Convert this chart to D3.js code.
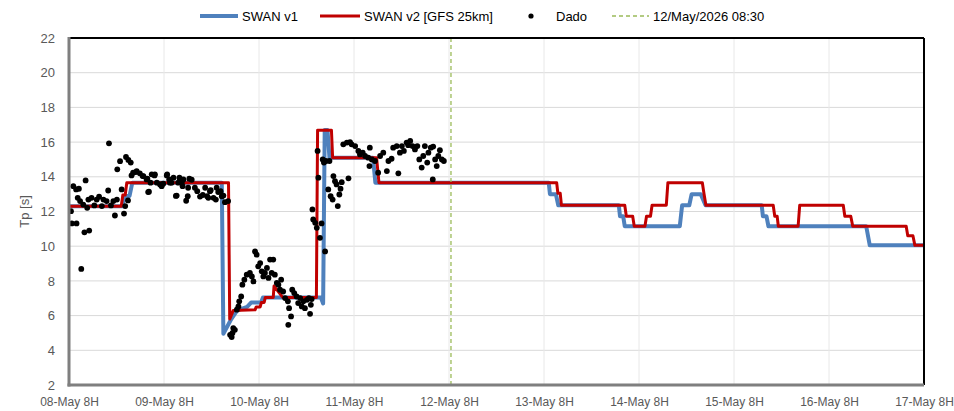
<!DOCTYPE html>
<html>
<head>
<meta charset="utf-8">
<script src="https://cdn.jsdelivr.net/npm/d3@7"></script>
<style>
  body { margin:0; background:#fff; }
  text { font-family: "Liberation Sans", Arial, sans-serif; }
</style>
</head>
<body>
<div id="chart"></div>
<script>
// hours since 08-May 08:00
var dayTicks  = [0, 24, 48, 72, 96, 120, 144, 168, 192, 216];
var dayLabels = ["08-May 8H","09-May 8H","10-May 8H","11-May 8H","12-May 8H",
                 "13-May 8H","14-May 8H","15-May 8H","16-May 8H","17-May 8H"];
var yTicks = [2,4,6,8,10,12,14,16,18,20,22];
var nowHour = 96.5; // 12/May/2026 08:30

// [hour, Tp]
var swanV1 = [[0,12.3],[13.5,12.3],[14,12.9],[15.3,12.9],[16,13.66],[38.6,13.66],[39,4.95],
  [41,5.8],[42.5,6.3],[45,6.5],[46,6.75],[48.5,6.75],[49,7.05],[63.6,7.05],[64.2,6.7],
  [64.6,16.7],[65.3,16.7],[65.8,15.1],[76.8,15.1],[77.4,13.66],[121.2,13.66],[121.5,13.0],
  [123.0,13.0],[123.6,12.36],[138.9,12.36],[139.2,11.73],[140,11.73],[140.4,11.15],
  [154.3,11.15],[154.9,12.36],[156.7,12.36],[157.3,13.0],[159.6,13.0],[160.8,12.36],
  [175,12.36],[175.3,11.73],[176.2,11.73],[176.7,11.15],[201.4,11.15],[202.3,10.05],[216,10.05]];

var swanV2 = [[0,12.3],[13.2,12.3],[13.6,12.95],[14.2,12.95],[14.6,13.66],[40.3,13.66],
  [40.6,5.8],[41.5,6.3],[47,6.33],[47.3,6.5],[48.3,6.5],[48.6,6.76],[49.3,6.76],[49.6,7.05],
  [51.6,7.05],[51.8,7.7],[54,7.05],[62.5,7.05],[62.8,16.68],[66.3,16.68],[66.6,15.1],
  [77.7,15.1],[78.3,13.66],[123.2,13.66],[123.5,13.05],[124.1,13.05],[124.4,12.36],
  [140.4,12.36],[140.8,11.73],[142.4,11.73],[142.8,11.15],[145.5,11.15],[145.9,11.73],
  [146.9,11.73],[147.3,12.36],[150.9,12.36],[151.3,13.66],[160,13.66],[160.4,13.05],
  [160.9,12.36],[177.9,12.36],[178.3,11.73],[178.9,11.73],[179.2,11.15],[184.2,11.15],
  [184.6,12.36],[195.6,12.36],[196,11.73],[197.5,11.73],[198,11.15],[211.5,11.15],
  [211.9,10.6],[213.2,10.6],[213.7,10.05],[216,10.05]];

var dado = [[0.5,12.02],[0.7,11.31],[1.1,13.46],[1.8,13.27],[1.9,11.31],[2.2,12.79],[2.5,13.31],
  [2.8,12.6],[3.1,8.69],[3.6,12.4],[3.9,10.8],[4.2,13.79],[4.6,12.21],[4.9,12.69],[5.1,10.9],
  [5.7,12.79],[6.4,12.35],[7,12.69],[7.6,12.85],[8.3,12.31],[8.7,12.69],[9.5,12.6],[9.9,13.21],
  [10.1,15.93],[10.6,12.35],[11.2,12.6],[11.6,11.77],[12.1,12.69],[12.2,14.43],[12.9,14.9],
  [13.3,13.27],[13.9,11.88],[14.2,12.31],[14.4,15.14],[14.9,12.64],[15,14.97],[15.6,14.82],
  [15.8,14.08],[16.2,14.24],[16.9,14.27],[17.1,14.33],[17.9,14.2],[18.6,14.04],[18.8,14.04],
  [19.6,13.85],[19.8,13.89],[20,13.12],[20.2,13.14],[20.6,13.66],[20.9,14.14],[21.6,14.08],
  [21.7,14.14],[22.2,13.66],[23,13.56],[23.4,13.46],[23.8,13.6],[24.7,14.08],[24.8,14.14],
  [25.3,13.85],[25.5,13.66],[25.9,13.66],[26.4,13.95],[27,12.9],[27.2,12.92],[27.6,13.66],
  [27.9,13.95],[28,13.89],[28.5,13.66],[28.7,13.46],[28.9,13.85],[29.6,12.62],[30,12.88],
  [30.1,13.37],[30.4,13.89],[31,13.83],[31.8,13.37],[32.4,13.17],[33.1,12.86],[33.8,12.95],
  [34.4,13.37],[34.9,12.88],[35.2,12.79],[35.6,13.17],[35.8,13.23],[36.5,12.79],[37.1,12.69],
  [37.3,13.37],[37.7,13.12],[38.3,13.17],[38.6,12.88],[39,12.92],[39.4,12.54],[40.2,12.6],
  [40.7,4.89],[41.1,4.76],[41.3,5.0],[41.5,5.28],[41.9,5.18],[42.4,6.34],[42.8,6.53],[43,6.82],
  [43.5,7.1],[43.8,7.78],[44.3,8.07],[44.9,8.36],[45.7,8.46],[46.2,8.26],[46.6,7.97],[47,9.7],
  [47.4,9.51],[47.8,8.84],[48.3,9.03],[48.7,8.55],[49.1,8.26],[49.5,8.46],[50,8.75],[50.4,8.17],
  [50.8,9.23],[51.2,8.46],[51.6,9.23],[52,8.36],[52.5,7.88],[52.9,7.78],[53.3,7.49],[53.6,8.07],
  [54.1,7.39],[54.6,7.01],[55.3,6.82],[55.4,5.47],[55.6,6.43],[56.1,5.95],[56.4,7.49],[56.9,7.3],
  [57.5,7.1],[57.9,6.72],[58.4,7.01],[58.8,6.53],[59.2,6.82],[59.6,6.43],[60.1,6.91],[60.6,7.01],
  [60.9,6.1],[61.1,6.62],[61.3,6.95],[61.5,12.12],[61.7,11.54],[62.2,11.35],[62.6,11.06],
  [62.8,15.49],[63,13.95],[63.4,10.48],[63.8,11.31],[64.1,15.0],[64.4,14.82],[64.7,9.7],
  [64.9,14.91],[65.5,13.27],[65.8,14.91],[66.1,12.88],[66.6,12.69],[66.8,14.04],[67.2,13.75],
  [67.6,13.56],[67.9,12.31],[68.3,12.98],[68.6,13.31],[68.9,13.69],[69.3,15.87],[70.2,15.97],
  [70.6,13.91],[71,16.0],[71.4,15.87],[72.3,15.77],[73.1,15.49],[73.5,15.29],[74.2,15.39],
  [74.8,15.2],[75.6,15.1],[75.9,14.62],[76,15.68],[76.5,15.0],[77.3,14.91],[78.1,14.24],
  [78.6,15.2],[79.4,15.39],[80.3,14.33],[80.7,14.91],[81.5,15.04],[81.9,15.68],[82.8,15.77],
  [83.2,14.2],[83.6,15.39],[84.1,15.77],[84.6,15.49],[85.3,15.97],[85.7,15.82],[86.2,16.07],
  [86.8,15.77],[87.4,15.58],[88,15.77],[88.5,15.0],[89.1,14.53],[89.5,15.2],[89.9,15.77],
  [90.5,14.82],[90.8,15.39],[91.4,15.68],[91.9,13.85],[92,15.74],[92.5,15.0],[92.9,14.62],
  [93.3,15.2],[93.7,15.53],[94.2,15.0],[94.7,14.91]];

var W = 954, H = 411;
var margin = {top:38, right:30, bottom:26, left:69};

var svg = d3.select("#chart").append("svg")
  .attr("width", W).attr("height", H);

var x = d3.scaleLinear().domain([0, 216]).range([margin.left, W - margin.right]);
var y = d3.scaleLinear().domain([2, 22]).range([H - margin.bottom, margin.top]);

//gridlines
svg.append("g").selectAll("line").data(yTicks).enter().append("line")
  .attr("x1", x(0)).attr("x2", x(216))
  .attr("y1", function(d){ return y(d); }).attr("y2", function(d){ return y(d); })
  .attr("stroke", "#d9d9d9").attr("stroke-width", 1);
svg.append("g").selectAll("line").data(dayTicks).enter().append("line")
  .attr("x1", function(d){ return x(d); }).attr("x2", function(d){ return x(d); })
  .attr("y1", y(2)).attr("y2", y(22))
  .attr("stroke", "#e8e8e8").attr("stroke-width", 1);

//axes
var yAxis = svg.append("g")
  .attr("transform", "translate(" + (margin.left - 14) + ",0)")
  .call(d3.axisLeft(y).tickValues(yTicks).tickSize(0).tickPadding(0));
yAxis.select(".domain").remove();
yAxis.selectAll("text").attr("fill", "#595959").style("font-size", "13px");

var xAxis = svg.append("g")
  .attr("transform", "translate(0," + (H - margin.bottom + 9) + ")")
  .call(d3.axisBottom(x).tickValues(dayTicks).tickSize(0).tickPadding(3)
    .tickFormat(function(d, i){ return dayLabels[i]; }));
xAxis.select(".domain").remove();
xAxis.selectAll("text").attr("fill", "#595959").style("font-size", "12px");

svg.append("text")
  .attr("transform", "translate(24," + ((y(2) + y(22)) / 2) + ") rotate(-90)")
  .attr("text-anchor", "middle").attr("dy", "0.35em")
  .attr("fill", "#595959").style("font-size", "13px")
  .text("Tp [s]");

//series
var line = d3.line()
  .x(function(d){ return x(d[0]); })
  .y(function(d){ return y(d[1]); });

svg.append("path").datum(swanV1)
  .attr("d", line).attr("fill", "none")
  .attr("stroke", "#4f81bd").attr("stroke-width", 4).attr("stroke-linejoin", "round");
svg.append("path").datum(swanV2)
  .attr("d", line).attr("fill", "none")
  .attr("stroke", "#c00000").attr("stroke-width", 3).attr("stroke-linejoin", "round");

svg.append("g").selectAll("circle").data(dado).enter().append("circle")
  .attr("cx", function(d){ return x(d[0]); })
  .attr("cy", function(d){ return y(d[1]); })
  .attr("r", 2.9).attr("fill", "#000");

svg.append("line")
  .attr("x1", x(nowHour)).attr("x2", x(nowHour))
  .attr("y1", y(22)).attr("y2", y(2))
  .attr("stroke", "#9bbb59").attr("stroke-width", 1.3).attr("stroke-dasharray", "4,3");

//plot border
svg.append("line").attr("x1", x(0)).attr("x2", x(216)).attr("y1", y(22)).attr("y2", y(22))
  .attr("stroke", "#000").attr("stroke-width", 2);
svg.append("line").attr("x1", x(216)).attr("x2", x(216)).attr("y1", y(22)).attr("y2", y(2))
  .attr("stroke", "#000").attr("stroke-width", 2);
svg.append("line").attr("x1", x(0)).attr("x2", x(0)).attr("y1", y(22) - 1).attr("y2", y(2) + 1.5)
  .attr("stroke", "#7f7f7f").attr("stroke-width", 3);
svg.append("line").attr("x1", x(0) - 1.5).attr("x2", x(216)).attr("y1", y(2)).attr("y2", y(2))
  .attr("stroke", "#7f7f7f").attr("stroke-width", 3);

//legend
var ly = 16;
var lg = svg.append("g").style("font-size", "13px");
lg.append("line").attr("x1", 200).attr("x2", 238).attr("y1", ly).attr("y2", ly)
  .attr("stroke", "#4f81bd").attr("stroke-width", 4);
lg.append("text").attr("x", 242).attr("y", ly).attr("dy", "0.35em").text("SWAN v1");
lg.append("line").attr("x1", 320).attr("x2", 360).attr("y1", ly).attr("y2", ly)
  .attr("stroke", "#c00000").attr("stroke-width", 3);
lg.append("text").attr("x", 364).attr("y", ly).attr("dy", "0.35em").text("SWAN v2 [GFS 25km]");
lg.append("circle").attr("cx", 531).attr("cy", ly).attr("r", 2.6).attr("fill", "#000");
lg.append("text").attr("x", 556).attr("y", ly).attr("dy", "0.35em").text("Dado");
lg.append("line").attr("x1", 612).attr("x2", 649).attr("y1", ly).attr("y2", ly)
  .attr("stroke", "#9bbb59").attr("stroke-width", 1.3).attr("stroke-dasharray", "4,3");
lg.append("text").attr("x", 653).attr("y", ly).attr("dy", "0.35em").text("12/May/2026 08:30");
</script>
</body>
</html>
